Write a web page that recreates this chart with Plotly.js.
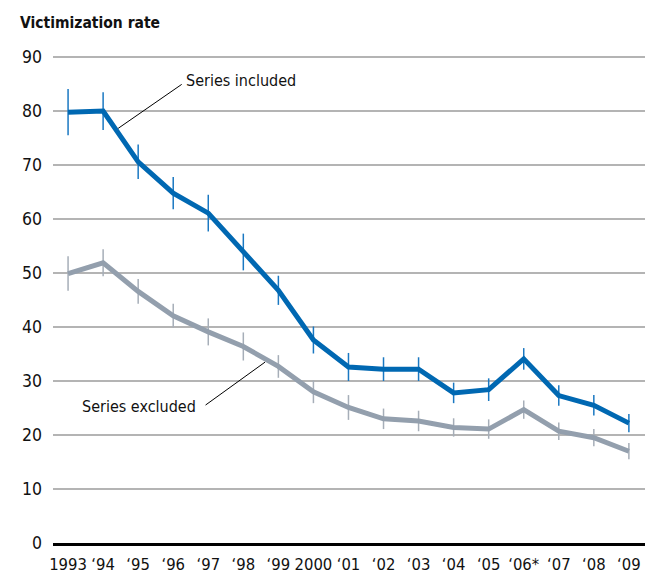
<!DOCTYPE html>
<html>
<head>
<meta charset="utf-8">
<script src="https://cdn.plot.ly/plotly-3.0.1.min.js"></script>
<style>
  html, body { margin: 0; padding: 0; background: #fff; }
  #chart { width: 645px; height: 575px; }
  #chart text { font-stretch: condensed !important; }
</style>
</head>
<body>
<div id="chart"></div>
<script>
const years = ["1993", "\u201894", "\u201895", "\u201896", "\u201897", "\u201898", "\u201899", "2000",
  "\u201801", "\u201802", "\u201803", "\u201804", "\u201805", "\u201806*", "\u201807", "\u201808", "\u201809"];
const seriesIncluded = [79.8, 80.0, 70.6, 64.8, 61.1, 53.9, 46.8, 37.6, 32.6, 32.2, 32.2, 27.8, 28.4, 34.1, 27.3, 25.5, 22.2];
const seriesIncludedErr = [4.3, 3.5, 3.2, 3.0, 3.4, 3.4, 2.7, 2.5, 2.6, 2.2, 2.2, 1.9, 2.1, 2.0, 1.9, 1.9, 1.7];
const seriesExcluded = [49.9, 51.9, 46.6, 42.1, 39.1, 36.4, 32.7, 28.0, 25.1, 23.0, 22.6, 21.4, 21.1, 24.7, 20.7, 19.5, 17.0];
const seriesExcludedErr = [3.2, 2.5, 2.3, 2.2, 2.5, 2.6, 2.1, 2.1, 2.3, 1.9, 1.9, 1.7, 1.8, 1.7, 1.6, 1.6, 1.5];
const yTicks = [0, 10, 20, 30, 40, 50, 60, 70, 80, 90];

const FONT = "'Liberation Sans Narrow', 'DejaVu Sans Condensed', 'DejaVu Sans', sans-serif";
const BLUE = "#0068b2";
const GRAY = "#939fad";

const traces = [
  {
    x: years, y: seriesExcluded, type: "scatter", mode: "lines",
    line: { color: GRAY, width: 5 },
    error_y: { type: "data", array: seriesExcludedErr, visible: true, color: "#a6aeb8", thickness: 1.5, width: 0 },
    name: "Series excluded", hoverinfo: "skip"
  },
  {
    x: years, y: seriesIncluded, type: "scatter", mode: "lines",
    line: { color: BLUE, width: 5 },
    error_y: { type: "data", array: seriesIncludedErr, visible: true, color: "#1a78c2", thickness: 1.5, width: 0 },
    name: "Series included", hoverinfo: "skip"
  }
];

const layout = {
  width: 645, height: 575,
  margin: { l: 53, r: 0, t: 56, b: 32, pad: 0 },
  paper_bgcolor: "#fff", plot_bgcolor: "#fff",
  showlegend: false,
  font: { family: FONT, size: 17, color: "#111" },
  xaxis: {
    type: "category",
    range: [-0.43, 16.46],
    tickangle: 0,
    showgrid: false, zeroline: false,
    showline: true, linecolor: "#000", linewidth: 3,
    ticks: "", ticklabelstandoff: 4,
    tickfont: { family: FONT, size: 16.5, color: "#111" },
    fixedrange: true
  },
  yaxis: {
    range: [0, 90.2],
    tickvals: yTicks,
    ticktext: yTicks.map(String),
    showgrid: true, gridcolor: "#b4b4b4", gridwidth: 1.5,
    zeroline: false, showline: false,
    ticks: "", ticklabelstandoff: 10,
    tickfont: { family: FONT, size: 17.5, color: "#111" },
    fixedrange: true
  },
  title: {
    text: "<b>Victimization rate</b>",
    font: { family: FONT, size: 15.5, color: "#111" },
    xref: "container", yref: "container",
    x: 20 / 645, xanchor: "left",
    y: 1 - 23 / 575, yanchor: "middle"
  },
  annotations: [
    {
      x: 1.43, y: 76.8, xref: "x", yref: "y", text: "",
      showarrow: true, arrowhead: 0, arrowwidth: 1, arrowcolor: "#000",
      ax: 65, ay: -45, axref: "pixel", ayref: "pixel", standoff: 0
    },
    {
      x: 3.31, y: 85.7, xref: "x", yref: "y", text: "Series included",
      showarrow: false, xanchor: "left", yanchor: "middle",
      font: { family: FONT, size: 16, color: "#111" }
    },
    {
      x: 5.62, y: 33.5, xref: "x", yref: "y", text: "",
      showarrow: true, arrowhead: 0, arrowwidth: 1, arrowcolor: "#000",
      ax: -61, ay: 44, axref: "pixel", ayref: "pixel", standoff: 0
    },
    {
      x: 3.71, y: 25.3, xref: "x", yref: "y", text: "Series excluded",
      showarrow: false, xanchor: "right", yanchor: "middle",
      font: { family: FONT, size: 16, color: "#111" }
    }
  ]
};

Plotly.newPlot("chart", traces, layout, { displayModeBar: false, staticPlot: true });
</script>
</body>
</html>
